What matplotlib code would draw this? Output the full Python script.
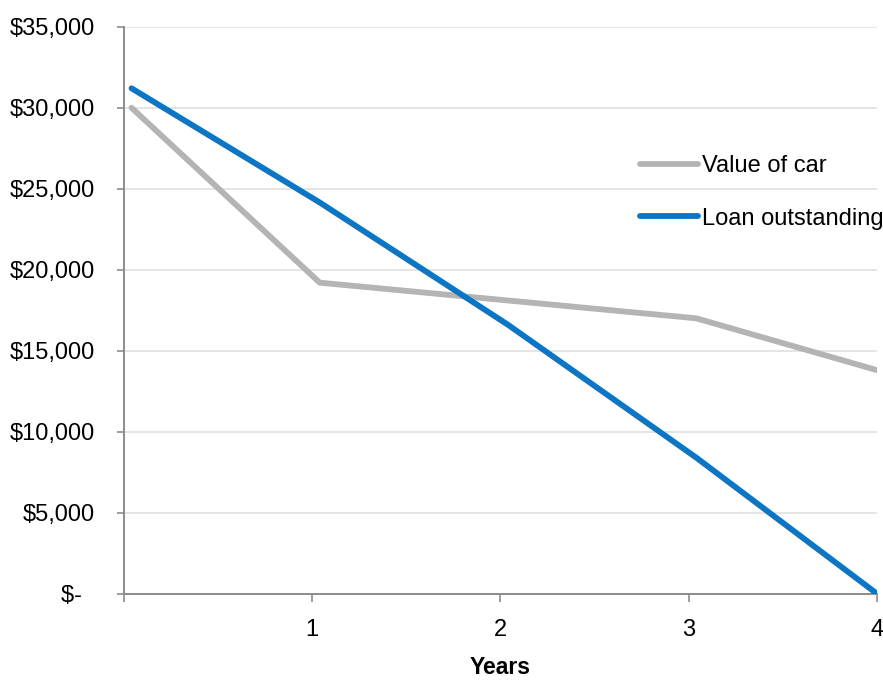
import matplotlib
matplotlib.use('Agg')
import matplotlib.pyplot as plt

plt.rcParams['font.family'] = ['Liberation Sans', 'DejaVu Sans']

# yearly points (start of each year, slight offset as in the schedule)
years = [0.04, 1.04, 2.04, 3.04, 4.0]
car_value = [30000, 19200, 18100, 17000, 13800]
loan_outstanding = [31200, 24150, 16600, 8400, 0]

x_ticks = [0, 1, 2, 3, 4]
x_tick_labels = ['', '1', '2', '3', '4']
y_ticks = [0, 5000, 10000, 15000, 20000, 25000, 30000, 35000]
y_tick_labels = ['$-  ', '$5,000', '$10,000', '$15,000', '$20,000', '$25,000', '$30,000', '$35,000']

gray = '#B4B4B4'
blue = '#0C76C4'
axis_gray = '#8C8C8C'

fig = plt.figure(figsize=(8.83, 6.8), dpi=100)
ax = fig.add_axes([0.1404, 0.1269, 0.8528, 0.8338])

ax.plot(years, car_value, color=gray, lw=4.2, solid_capstyle='round',
        solid_joinstyle='round', label='Value of car', zorder=3)
ax.plot(years, loan_outstanding, color=blue, lw=4.2, solid_capstyle='round',
        solid_joinstyle='round', label='Loan outstanding', zorder=4)

ax.set_xlim(0, 4)
ax.set_ylim(0, 35000)
ax.set_xticks(x_ticks)
ax.set_xticklabels(x_tick_labels)
ax.set_yticks(y_ticks)
ax.set_yticklabels(y_tick_labels)

ax.grid(axis='y', color='#E3E3E3', lw=1.3)
ax.set_axisbelow(True)
for side in ['top', 'right']:
    ax.spines[side].set_visible(False)
for side in ['left', 'bottom']:
    ax.spines[side].set_color(axis_gray)
    ax.spines[side].set_linewidth(1.4)

ax.tick_params(axis='y', length=5, width=1.2, color=axis_gray, pad=16, labelsize=17)
ax.tick_params(axis='x', length=6, width=1.2, color=axis_gray, pad=12, labelsize=17)

ax.set_xlabel('Years', fontsize=16.5, fontweight='bold', labelpad=11)

ax.legend(loc='upper left', bbox_to_anchor=(0.685, 0.774), frameon=False,
          fontsize=17, handlelength=2.45, handletextpad=0.17,
          labelspacing=1.3, borderpad=0, borderaxespad=0)

plt.savefig('out.png', dpi=100)
